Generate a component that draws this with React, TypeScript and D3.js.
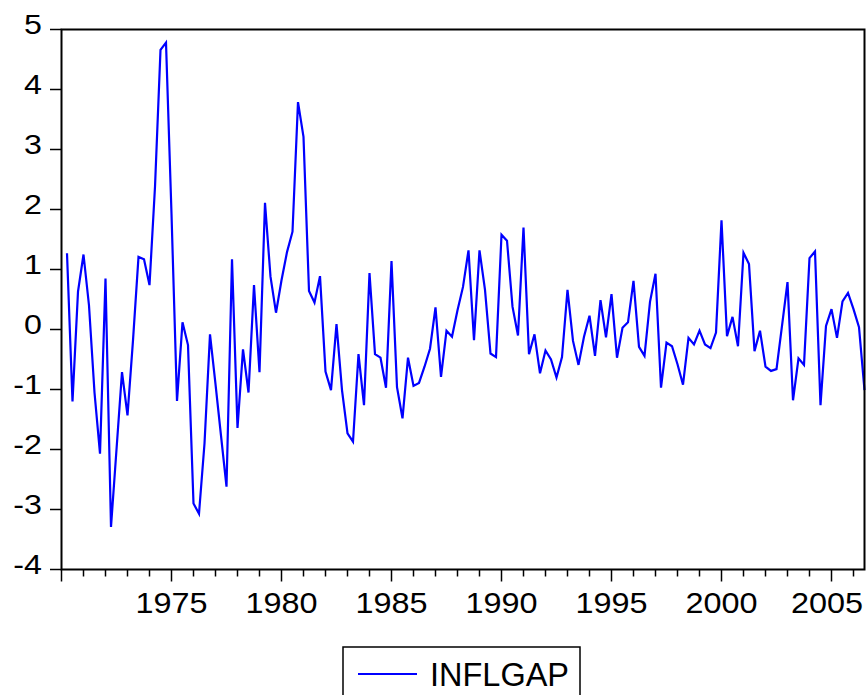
import React from 'react';
import * as d3 from 'd3';

// INFLGAP, quarterly, starting 1970Q2
const startYear = 1970;
const startQuarter = 2;
const inflgap1970s = [
  1.27, -1.2, 0.63, 1.25, 0.4, -1.05, -2.07, 0.85, -3.29, -2.0,
  -0.71, -1.43, -0.18, 1.21, 1.17, 0.74, 2.38, 4.66, 4.78, 1.93,
  -1.19, 0.12, -0.26, -2.9, -3.07, -1.9, -0.08, -0.91, -1.77, -2.62,
  1.17, -1.64, -0.33, -1.05, 0.74, -0.71, 2.11, 0.88, 0.28,
];
const inflgap1980s = [
  0.82, 1.29, 1.63, 3.79, 3.21, 0.64, 0.45, 0.89, -0.7, -1.01,
  0.09, -1.01, -1.73, -1.87, -0.41, -1.26, 0.94, -0.41, -0.47, -0.97,
  1.14, -0.96, -1.48, -0.47, -0.94, -0.89, -0.62, -0.32, 0.37, -0.79,
  -0.02, -0.12, 0.32, 0.71, 1.32, -0.18, 1.32, 0.66, -0.4, -0.46,
];
const inflgap1990s = [
  1.58, 1.48, 0.38, -0.1, 1.7, -0.41, -0.08, -0.73, -0.35, -0.5,
  -0.8, -0.46, 0.66, -0.19, -0.59, -0.12, 0.23, -0.44, 0.49, -0.13,
  0.59, -0.47, 0.03, 0.12, 0.81, -0.29, -0.44, 0.46, 0.93, -0.97,
  -0.22, -0.28, -0.58, -0.92, -0.14, -0.25, -0.02, -0.25, -0.31, -0.05,
];
const inflgap2000s = [
  1.82, -0.11, 0.21, -0.28, 1.28, 1.09, -0.36, -0.02, -0.62, -0.69,
  -0.66, 0.06, 0.79, -1.18, -0.48, -0.59, 1.19, 1.3, -1.26, 0.06,
  0.34, -0.14, 0.47, 0.61, 0.34, 0.04, -1.01,
];
const yTicks = [-4, -3, -2, -1, 0, 1, 2, 3, 4, 5];
const xLabelYears = [1975, 1980, 1985, 1990, 1995, 2000, 2005];
const seriesName = 'INFLGAP';

const font = "Arial, 'Liberation Sans', sans-serif";

export default function App() {
  const values = [...inflgap1970s, ...inflgap1980s, ...inflgap1990s, ...inflgap2000s];
  const data = values.map((v, i) => ({
    t: startYear + (startQuarter - 1) / 4 + i * 0.25,
    v,
  }));

  const x = d3.scaleLinear().domain([1970, 2006.5]).range([61.5, 864.5]);
  const y = d3.scaleLinear().domain([-4, 5]).range([569.5, 29.5]);

  const line = d3.line<{ t: number; v: number }>()
    .x(d => x(d.t))
    .y(d => y(d.v));

  const years = d3.range(1970, 2007);
  const [x0, x1] = x.range();
  const [yb, yt] = y.range();

  return (
    <div style={{ position: 'absolute', left: 0, top: 0 }}>
      <svg width={867} height={695} style={{ display: 'block', background: '#fff' }}>
        <path d={line(data) || ''} fill="none" stroke="#0000ff" strokeWidth={2.2} />

        {/* frame */}
        <rect x={x0} y={yt} width={x1 - x0} height={yb - yt} fill="none" stroke="#000" strokeWidth={2} />

        {/* y axis */}
        {yTicks.map(t => (
          <g key={t}>
            <line x1={50} x2={x0} y1={y(t)} y2={y(t)} stroke="#000" strokeWidth={1.5} />
            <text
              transform={`translate(42,${y(t) + 4}) scale(1.15,1)`}
              textAnchor="end"
              fontFamily={font}
              fontSize={28}
              fill="#000"
            >
              {t}
            </text>
          </g>
        ))}

        {/* x axis */}
        {years.map(yr => (
          <line
            key={yr}
            x1={x(yr)}
            x2={x(yr)}
            y1={yb}
            y2={yb + ((yr - 1970) % 5 === 0 ? 12 : 7)}
            stroke="#000"
            strokeWidth={1.5}
          />
        ))}
        {xLabelYears.map(yr => (
          <text
            key={yr}
            transform={`translate(${Math.min(x(yr), 827)},613) scale(1.08,1)`}
            textAnchor="middle"
            fontFamily={font}
            fontSize={30}
            fill="#000"
          >
            {yr}
          </text>
        ))}

        {/* legend */}
        <rect x={343} y={647} width={237} height={60} fill="#fff" stroke="#000" strokeWidth={1.5} />
        <line x1={358} x2={417} y1={674} y2={674} stroke="#0000ff" strokeWidth={2} />
        <text
          x={430}
          y={686}
          fontFamily={font}
          fontSize={34}
          textLength={139}
          lengthAdjust="spacingAndGlyphs"
          fill="#000"
        >
          {seriesName}
        </text>
      </svg>
    </div>
  );
}
